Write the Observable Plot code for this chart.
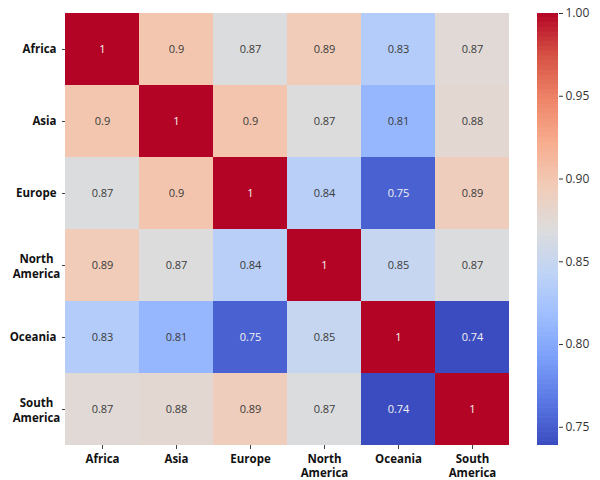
<!DOCTYPE html>
<html>
<head>
<meta charset="utf-8">
<script src="https://cdn.jsdelivr.net/npm/d3@7"></script>
<script src="https://cdn.jsdelivr.net/npm/@observablehq/plot@0.6"></script>
<style>
  html, body { margin: 0; padding: 0; background: #fff; }
  #wrap { position: relative; width: 600px; height: 480px; font-family: "Open Sans", sans-serif; }
  #main { position: absolute; left: 0; top: 0; }
  #bar { position: absolute; left: 520px; top: 0; }
</style>
</head>
<body>
<div id="wrap"><div id="main"></div><div id="bar"></div></div>
<script>
const continents = ["Africa", "Asia", "Europe", "North America", "Oceania", "South America"];
const africa       = [1.000, 0.900, 0.868, 0.894, 0.834, 0.874];
const asia         = [0.900, 1.000, 0.901, 0.869, 0.811, 0.877];
const europe       = [0.868, 0.901, 1.000, 0.838, 0.752, 0.892];
const northAmerica = [0.894, 0.869, 0.838, 1.000, 0.849, 0.868];
const oceania      = [0.834, 0.811, 0.752, 0.849, 1.000, 0.739];
const southAmerica = [0.874, 0.877, 0.892, 0.868, 0.739, 1.000];
const colorTicks = [0.75, 0.80, 0.85, 0.90, 0.95, 1.00];
const vmin = 0.739, vmax = 1.0;

// matplotlib "coolwarm" sampled at 0, 0.1, ..., 1
const coolwarm = d3.piecewise(d3.interpolateRgb, [
  "#3b4cc0", "#5977e3", "#7b9ff9", "#9ebeff", "#c0d4f5", "#dddcdc",
  "#f2cbb7", "#f7ac8e", "#ee8468", "#d65244", "#b40426"
]);

const rows = [africa, asia, europe, northAmerica, oceania, southAmerica];
const cells = [];
rows.forEach((r, i) => r.forEach((v, j) => cells.push({row: continents[i], col: continents[j], value: v})));

const fmt = d3.format(".2~g");
const isDark = v => (v - vmin) / (vmax - vmin) > 0.85 || (v - vmin) / (vmax - vmin) < 0.12;
const font = "Open Sans";

const main = Plot.plot({
  width: 520,
  height: 480,
  marginLeft: 65,
  marginRight: 11,
  marginTop: 13,
  marginBottom: 35,
  style: {fontFamily: font, fontSize: "11px", color: "#262626", background: "#fff"},
  x: {domain: continents, padding: 0, label: null},
  y: {domain: continents, padding: 0, label: null},
  color: {type: "linear", domain: [vmin, vmax], interpolate: () => coolwarm},
  marks: [
    Plot.cell(cells, {x: "col", y: "row", fill: "value"}),
    Plot.text(cells, {x: "col", y: "row", text: d => fmt(d.value), fontSize: 11,
      fill: d => isDark(d.value) ? "#f2f2f2" : "#3a3a3a"}),
    Plot.axisX({tickSize: 4, tickPadding: 4, fontWeight: "bold", fontSize: 11.5, lineHeight: 1.2,
      tickFormat: d => d.replace(" ", "\n"), stroke: "#444"}),
    Plot.axisY({tickSize: 3, tickPadding: 6, fontWeight: "bold", fontSize: 11.5,
      tickFormat: d => d.includes(" ") ? "" : d, stroke: "#444"}),
    Plot.text(continents.filter(d => d.includes(" ")), {y: d => d, text: d => d.replace(" ", "\n"),
      frameAnchor: "left", dx: -29, textAnchor: "middle", lineHeight: 1.3,
      fontWeight: "bold", fontSize: 11.5, fill: "#111"})
  ]
});
main.querySelectorAll("g[aria-label='x-axis tick label'] text, g[aria-label='y-axis tick label'] text").forEach(t => t.setAttribute("fill", "#111"));
document.getElementById("main").appendChild(main);

const step = 0.0005;
const stripes = d3.range(vmin, vmax, step).map(v => ({v}));
const bar = Plot.plot({
  width: 80,
  height: 480,
  marginLeft: 17,
  marginRight: 42,
  marginTop: 13,
  marginBottom: 35,
  style: {fontFamily: font, fontSize: "12px", color: "#333", background: "transparent"},
  x: {axis: null},
  y: {domain: [vmin, vmax], label: null},
  color: {type: "linear", domain: [vmin, vmax], interpolate: () => coolwarm},
  marks: [
    Plot.rect(stripes, {y1: "v", y2: d => Math.min(vmax, d.v + step * 1.8), fill: "v"}),
    Plot.axisY({anchor: "right", ticks: colorTicks, tickFormat: d3.format(".2f"), tickSize: 4, tickPadding: 3, fontSize: 12})
  ]
});
document.getElementById("bar").appendChild(bar);
</script>
</body>
</html>
